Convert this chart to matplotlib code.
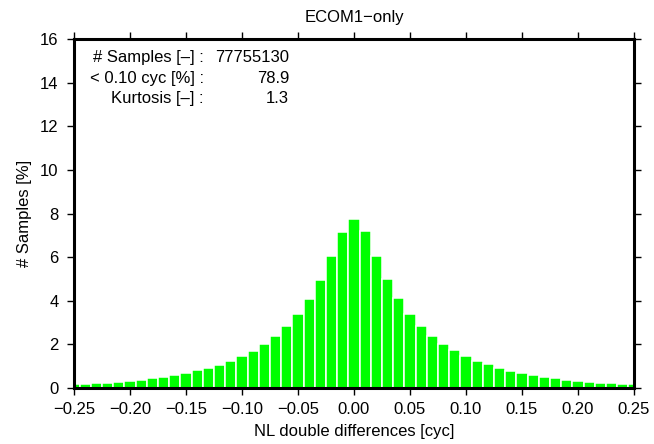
import numpy as np
import matplotlib
matplotlib.use("Agg")
import matplotlib.pyplot as plt

plt.rcParams['font.family'] = ['Liberation Sans', 'DejaVu Sans']
plt.rcParams['axes.unicode_minus'] = True

# bin centres [cyc] and histogram values [%]
bin_centres = np.round(np.arange(-25, 26) * 0.01, 2)
samples_pct = [0.17, 0.18, 0.22, 0.23, 0.28, 0.32, 0.37, 0.45, 0.52, 0.60,
               0.69, 0.82, 0.92, 1.06, 1.25, 1.45, 1.69, 2.00, 2.37, 2.82,
               3.38, 4.09, 4.97, 6.03, 7.14, 7.75, 7.18, 6.06, 5.00, 4.12,
               3.40, 2.83, 2.38, 2.00, 1.72, 1.46, 1.25, 1.09, 0.91, 0.80,
               0.68, 0.58, 0.51, 0.45, 0.37, 0.32, 0.28, 0.23, 0.22, 0.18,
               0.17]

x_ticks = [-0.25, -0.20, -0.15, -0.10, -0.05, 0.0, 0.05, 0.10, 0.15, 0.20, 0.25]
y_ticks = [0, 2, 4, 6, 8, 10, 12, 14, 16]

stat_labels = ["# Samples [–] :", "< 0.10 cyc [%] :", "Kurtosis [–] :"]
stat_values = ["77755130", "78.9", "1.3"]

fs = 12

fig = plt.figure(figsize=(6.54, 4.44), dpi=100)
ax = fig.add_axes([74/654, 56/444, 560/654, 349/444])

ax.bar(bin_centres, samples_pct, width=0.01, color='#00ff00',
       edgecolor='white', linewidth=1.1, zorder=2)

ax.set_xlim(-0.25, 0.25)
ax.set_ylim(0, 16)
ax.set_xticks(x_ticks)
ax.set_xticklabels([("%.2f" % v).replace("-", "\u2212") for v in x_ticks])
ax.set_yticks(y_ticks)

for s in ax.spines.values():
    s.set_linewidth(2.2)
ax.tick_params(direction='out', length=5, width=1, labelsize=fs,
               top=True, right=True, pad=6)
ax.tick_params(axis='x', pad=5)

ax.set_title("ECOM1\u2212only", fontsize=fs, pad=12)
ax.set_xlabel("NL double differences [cyc]", fontsize=fs, labelpad=5)
ax.set_ylabel("# Samples [%]", fontsize=fs, labelpad=6)

stat_rows = [15.13, 14.18, 13.25]
for y, lab, val in zip(stat_rows, stat_labels, stat_values):
    ax.text(-0.134, y, lab, ha='right', va='center', fontsize=fs)
    ax.text(-0.058, y, val, ha='right', va='center', fontsize=fs)

fig.savefig("out.png", dpi=100)
